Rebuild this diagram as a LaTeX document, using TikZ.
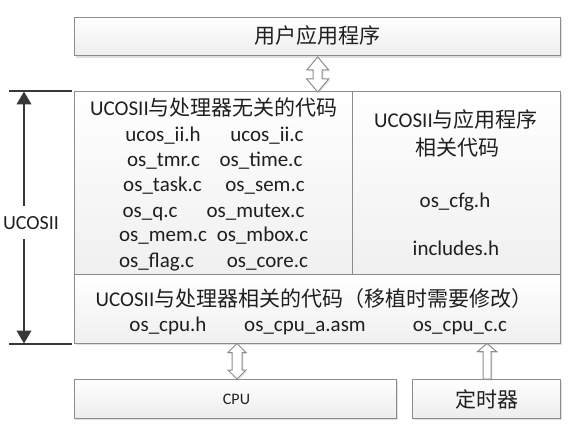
\documentclass[tikz,border=0pt]{standalone}
\usepackage{fontspec}
\setmainfont{Carlito}
\newfontfamily\cjk{Noto Sans CJK SC}
\usetikzlibrary{arrows.meta,shadows}
\begin{document}
\begin{tikzpicture}[x=0.75pt,y=-0.75pt,
  boxshade/.style={draw=black!45, line width=0.75pt, top color=white, bottom color=black!7,
    drop shadow={shadow xshift=1.2pt, shadow yshift=-1.2pt, fill=black!35, opacity=0.35}},
  plainline/.style={draw=black!45, line width=0.75pt},
  blockarrow/.style={draw=black!45, line width=0.75pt, fill=white,
    drop shadow={shadow xshift=1pt, shadow yshift=-1pt, fill=black!35, opacity=0.3}},
  txt/.style={font=\fontsize{15.75}{19}\selectfont, inner sep=0pt, text=black!88, anchor=base},
  smalltxt/.style={font=\fontsize{12}{14}\selectfont, inner sep=0pt, text=black!88, anchor=base},
  brk/.style={draw=black!78, line width=1.5pt},
  brkarrow/.style={brk, {Triangle[length=9.75pt,width=11pt]}-{Triangle[length=9.75pt,width=11pt]}}
]
\useasboundingbox (0,0) rectangle (571,445);
\fill[white] (0,0) rectangle (571,445);

% top box
\path[boxshade] (74,17.5) rectangle (560,56);
\node[txt] (app) at (317,44) {\cjk 用户应用程序};

% main box regions
\path[boxshade] (74,92) rectangle (560,343);
\path[top color=white, bottom color=black!6] (74.4,92.4) rectangle (352.7,275);
\path[top color=white, bottom color=black!6] (352.7,92.4) rectangle (559.6,275);
\path[top color=white, bottom color=black!6] (74.4,275) rectangle (559.6,342.6);
\draw[plainline] (74,92) rectangle (560,343);
\coordinate (divTop) at (352.7,92);
\coordinate (divBot) at (352.7,275);
\coordinate (hl) at (74,275);
\coordinate (hr) at (560,275);
\draw[plainline] (divTop) -- (divBot);
\draw[plainline] (hl) -- (hr);

% left region text
\node[txt] (indepTitle) at (214,116) {UCOSII{\cjk 与处理器无关的代码}};
\node[txt] (f1) at (163,142) {ucos\_ii.h};
\node[txt] (f2) at (267,142) {ucos\_ii.c};
\node[txt] (f3) at (163.5,167) {os\_tmr.c};
\node[txt] (f4) at (261,167) {os\_time.c};
\node[txt] (f5) at (162.5,192) {os\_task.c};
\node[txt] (f6) at (265,192) {os\_sem.c};
\node[txt] (f7) at (150,217.5) {os\_q.c};
\node[txt] (f8) at (255.5,217.5) {os\_mutex.c};
\node[txt] (f9) at (163,242) {os\_mem.c};
\node[txt] (f10) at (262.5,242) {os\_mbox.c};
\node[txt] (f11) at (156.5,267.5) {os\_flag.c};
\node[txt] (f12) at (267.5,267.5) {os\_core.c};

% right region text
\node[txt] (appTitle1) at (456,128) {UCOSII{\cjk 与应用程序}};
\node[txt] (appTitle2) at (457,156) {\cjk 相关代码};
\node[txt] (cfg) at (455,208) {os\_cfg.h};
\node[txt] (inc) at (456,256) {includes.h};

% bottom region text
\node[txt] (depTitle) at (314,306) {UCOSII{\cjk 与处理器相关的代码（移植时需要修改）}};
\node[txt] (c1) at (168,331) {os\_cpu.h};
\node[txt] (c2) at (305,331) {os\_cpu\_a.asm};
\node[txt] (c3) at (460,331) {os\_cpu\_c.c};

% bottom boxes
\path[boxshade] (74,379) rectangle (396,418);
\node[smalltxt] (cpu) at (236.5,404.5) {CPU};
\path[boxshade] (412,379) rectangle (560,418);
\node[txt] (timer) at (487,407) {\cjk 定时器};

% block arrows
\path[blockarrow] (317.7,57) -- (328.7,70) -- (322.2,70) -- (322.2,79) -- (328.7,79) -- (317.7,92)
  -- (306.7,79) -- (313.2,79) -- (313.2,70) -- (306.7,70) -- cycle;
\path[blockarrow] (237,343.5) -- (246,352.5) -- (242,352.5) -- (242,370) -- (246,370) -- (237,379)
  -- (228,370) -- (232,370) -- (232,352.5) -- (228,352.5) -- cycle;
\path[blockarrow] (487,343.5) -- (496.5,351.5) -- (491,351.5) -- (491,379) -- (483,379) -- (483,351.5)
  -- (477.5,351.5) -- cycle;

% bracket
\coordinate (bt1) at (9,91);
\coordinate (bt2) at (72,91);
\coordinate (bb1) at (9,344);
\coordinate (bb2) at (72,344);
\coordinate (aTop) at (24,91.5);
\coordinate (aBot) at (24,343.5);
\draw[brk] (bt1) -- (bt2);
\draw[brk] (bb1) -- (bb2);
\draw[brkarrow] (aTop) -- (aBot);
\node[font=\fontsize{15}{18}\selectfont, text=black!88, fill=white, inner xsep=0pt,
  minimum height=24.75pt] (ucos) at (31,223) {UCOSII};
\end{tikzpicture}
\end{document}
